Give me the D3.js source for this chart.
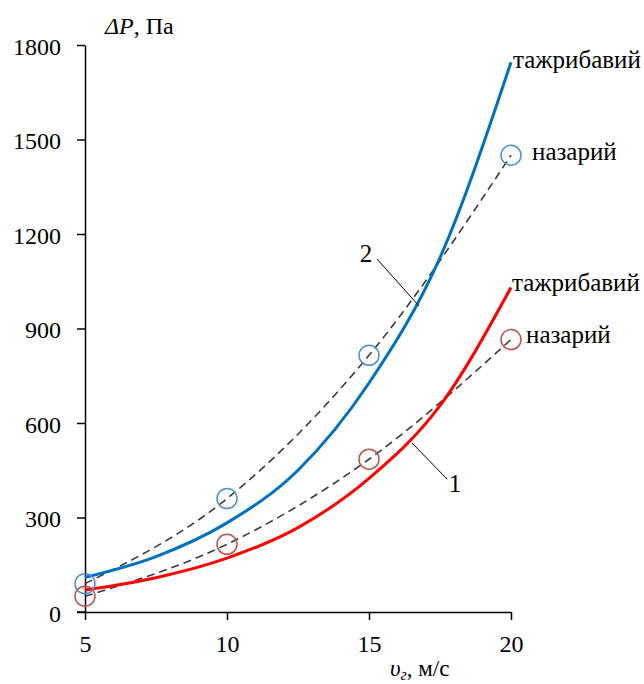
<!DOCTYPE html>
<html>
<head>
<meta charset="utf-8">
<script src="https://cdn.jsdelivr.net/npm/d3@7"></script>
<style>
body { margin: 0; background: white; }
svg text { font-family: "Liberation Serif", "DejaVu Serif", "Times New Roman", serif; fill: #000; }
</style>
</head>
<body>
<div id="chart"></div>
<script>
let width = 644;
let height = 684;
let serif = "'Liberation Serif', 'DejaVu Serif', serif";

// velocities, m/s
let speeds = [5, 10, 15, 20];
let speedsFine = [5, 7.5, 10, 12.5, 15, 17.5, 20];

// theoretical points (circles, dashed)
let theory1 = [50, 215, 485, 865];
let theory2 = [90, 360, 815, 1450];

// experimental curves (solid)
let exper1 = [70, 109, 171, 268, 424, 655, 1030];
let exper2 = [110, 176, 283, 450, 727, 1125, 1745];

let xTicks = [5, 10, 15, 20];
let yTicks = [0, 300, 600, 900, 1200, 1500, 1800];

let svg = d3.select("#chart")
	.append("svg")
	.attr("width", width)
	.attr("height", height)
	.style("background-color", "white");

let x = d3.scaleLinear().domain([5, 20]).range([85, 511]);
let y = d3.scaleLinear().domain([0, 1800]).range([612, 45]);

// axes
let xAxis = svg.append("g")
	.attr("transform", "translate(0,612)")
	.call(d3.axisBottom(x).tickValues(xTicks).tickFormat(d3.format("d")).tickSize(8).tickSizeOuter(0))
	.attr("font-family", serif);
xAxis.select(".domain").attr("stroke", "#000").attr("stroke-width", 1.5);
xAxis.selectAll(".tick line").attr("stroke", "#000").attr("stroke-width", 1.5);
xAxis.selectAll(".tick text").attr("y", 23).attr("dy", "0.71em")
	.attr("font-size", 24);

let yAxis = svg.append("g")
	.attr("transform", "translate(85,0)")
	.call(d3.axisLeft(y).tickValues(yTicks).tickFormat(d3.format("d")).tickSize(8).tickSizeOuter(0))
	.attr("font-family", serif);
yAxis.select(".domain").attr("stroke", "#000").attr("stroke-width", 1.5);
yAxis.selectAll(".tick line").attr("stroke", "#000").attr("stroke-width", 1.5);
yAxis.selectAll(".tick text").attr("x", -24).attr("dy", "0.38em")
	.attr("font-size", 24);

// extend x axis line to the y tick
svg.append("line")
	.attr("x1", 77).attr("x2", 85)
	.attr("y1", y(0)).attr("y2", y(0))
	.attr("stroke", "#000").attr("stroke-width", 1.5);

/*----------------------------------------------*/

let lineFine = d3.line()
	.x(function(d, i){ return x(speedsFine[i]); })
	.y(function(d){ return y(d); })
	.curve(d3.curveMonotoneX);

let lineDash = d3.line()
	.x(function(d, i){ return x(speeds[i]); })
	.y(function(d){ return y(d); })
	.curve(d3.curveMonotoneX);

svg.append("path").attr("d", lineDash(theory2))
	.attr("fill", "none").attr("stroke", "#3a3a3a").attr("stroke-width", 1.6)
	.attr("stroke-dasharray", "8,5");
svg.append("path").attr("d", lineDash(theory1))
	.attr("fill", "none").attr("stroke", "#3a3a3a").attr("stroke-width", 1.6)
	.attr("stroke-dasharray", "8,5");

svg.append("path").attr("d", lineFine(exper2))
	.attr("fill", "none").attr("stroke", "#0070c0").attr("stroke-width", 3);
svg.append("path").attr("d", lineFine(exper1))
	.attr("fill", "none").attr("stroke", "#ff0000").attr("stroke-width", 3);

svg.selectAll(".c2").data(theory2).enter().append("circle")
	.attr("cx", function(d, i){ return x(speeds[i]); })
	.attr("cy", function(d){ return y(d); })
	.attr("r", 10)
	.attr("fill", "none").attr("stroke", "#4a90d0").attr("stroke-width", 1.5);

svg.selectAll(".c1").data(theory1).enter().append("circle")
	.attr("cx", function(d, i){ return x(speeds[i]); })
	.attr("cy", function(d){ return y(d); })
	.attr("r", 10)
	.attr("fill", "none").attr("stroke", "#c0504d").attr("stroke-width", 1.5);

/*----------------------------------------------*/

let labels = svg.append("g").attr("font-family", serif).attr("font-size", 25);

labels.append("text").attr("x", 513).attr("y", 68).text("тажрибавий");
labels.append("text").attr("x", 532).attr("y", 160).text("назарий");
labels.append("text").attr("x", 512).attr("y", 291).text("тажрибавий");
labels.append("text").attr("x", 526).attr("y", 343).text("назарий");

// curve numbers with leaders
labels.append("text").attr("x", 366).attr("y", 262).attr("text-anchor", "middle").text("2");
svg.append("line").attr("x1", 377).attr("y1", 259).attr("x2", 419).attr("y2", 306)
	.attr("stroke", "#000").attr("stroke-width", 1);
labels.append("text").attr("x", 455).attr("y", 492).attr("text-anchor", "middle").text("1");
svg.append("line").attr("x1", 412).attr("y1", 443).attr("x2", 447).attr("y2", 479)
	.attr("stroke", "#000").attr("stroke-width", 1);

// axis titles
let yt = labels.append("text").attr("x", 105).attr("y", 34).attr("font-size", 24);
yt.append("tspan").style("font-style", "italic").text("ΔP");
yt.append("tspan").text(", Па");

let xt = labels.append("text").attr("x", 390).attr("y", 676).attr("font-size", 23);
xt.append("tspan").style("font-style", "italic").text("υ");
xt.append("tspan").style("font-style", "italic").attr("font-size", 16).attr("dy", 4).text("г");
xt.append("tspan").attr("dy", -4).text(", м/с");
</script>
</body>
</html>
